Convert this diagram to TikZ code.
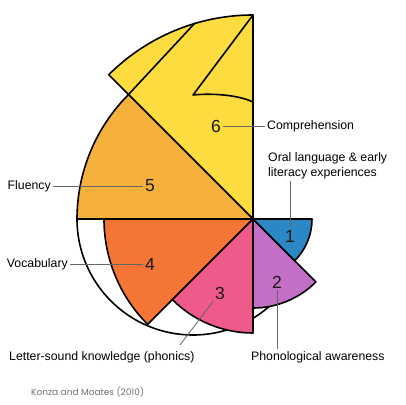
\documentclass[tikz,border=0pt]{standalone}
\usepackage{fontspec}
\setmainfont{Liberation Sans}
\newfontfamily\creditfont{Poppins}
\definecolor{cyellow}{HTML}{FCDC3E}
\definecolor{clorange}{HTML}{F6B03C}
\definecolor{corange}{HTML}{F47535}
\definecolor{cpink}{HTML}{EE5A8A}
\definecolor{cpurple}{HTML}{C46FC6}
\definecolor{cblue}{HTML}{2B88C4}
\begin{document}
\begin{tikzpicture}[x=1pt,y=1pt,
  sect/.style={draw=black, line width=1.6pt, line join=round},
  lead/.style={draw=black!60, line width=0.8pt},
  num/.style={font=\fontsize{17.5}{17.5}\selectfont, inner sep=1.5pt, text=black!90},
  lbl/.style={font=\fontsize{12.3}{15}\selectfont, inner sep=2pt}]
\useasboundingbox (0,0) rectangle (406,404);
\fill[white] (0,0) rectangle (406,404);
\coordinate (O) at (253,185);
\coordinate (W) at (193,185);
% white half disc
\fill[white] (W) ++(180:116) arc[start angle=180,end angle=360,radius=116] -- cycle;
\draw[sect] (W) ++(180:116) arc[start angle=180,end angle=320,radius=116];
% sector 6 (yellow)
\filldraw[sect, fill=cyellow] (O) -- ++(90:204) arc[start angle=90,end angle=135,radius=204] -- cycle;
\coordinate (P1) at (253,389);
\coordinate (A) at (195,381);
\coordinate (C5) at (128.5,309.5);
\coordinate (N) at (193,309);
\coordinate (M) at (253,302);
\draw[sect] (A) -- (C5);
\draw[sect] (P1) -- (N) .. controls (213,311) and (238,309) .. (M);
% sector 5
\filldraw[sect, fill=clorange] (O) -- ++(180:176) arc[start angle=180,end angle=135,radius=176] -- cycle;
% sector 4
\filldraw[sect, fill=corange] (O) -- ++(180:149) arc[start angle=180,end angle=225,radius=149] -- cycle;
% sector 2
\filldraw[sect, fill=cpurple] (O) -- ++(-45:89) arc[start angle=-45,end angle=-90,radius=89] -- cycle;
% sector 3
\filldraw[sect, fill=cpink] (O) -- ++(-90:114) arc[start angle=-90,end angle=-135,radius=114] -- cycle;
% sector 1
\filldraw[sect, fill=cblue] (O) -- ++(0:59) arc[start angle=0,end angle=-45,radius=59] -- cycle;
% numbers
\node[num] (n6) at (216,278) {6};
\node[num] (n5) at (150,218) {5};
\node[num] (n4) at (150,140) {4};
\node[num] (n3) at (220,111) {3};
\node[num] (n2) at (277,122) {2};
\node[num] (n1) at (290,168) {1};
% labels
\node[lbl, anchor=west] (t6) at (265,278) {Comprehension};
\node[lbl, anchor=east] (t5) at (53,218) {Fluency};
\node[lbl, anchor=east] (t4) at (70,140) {Vocabulary};
\node[lbl, anchor=west] (t3) at (7,47) {Letter-sound knowledge (phonics)};
\node[lbl, anchor=west] (t2) at (249,47) {Phonological awareness};
\node[lbl, anchor=south west, align=left] (t1) at (266,223) {Oral language \& early\\literacy experiences};
\node[anchor=west, inner sep=0pt, font=\creditfont\fontsize{9}{9}\selectfont, text=black!55] (cr) at (31,12) {Konza and Moates (2010)};
% leaders
\coordinate (e3) at (180,59);
\draw[lead] (n6.east) -- (t6.west);
\draw[lead] (t5.east) -- (n5.west);
\draw[lead] (t4.east) -- (n4.west);
\draw[lead] (n3.south west) -- (e3);
\draw[lead] (n2.south) -- (n2.south |- t2.north);
\draw[lead] (n1.north) -- (n1.north |- t1.south);
\end{tikzpicture}
\end{document}
